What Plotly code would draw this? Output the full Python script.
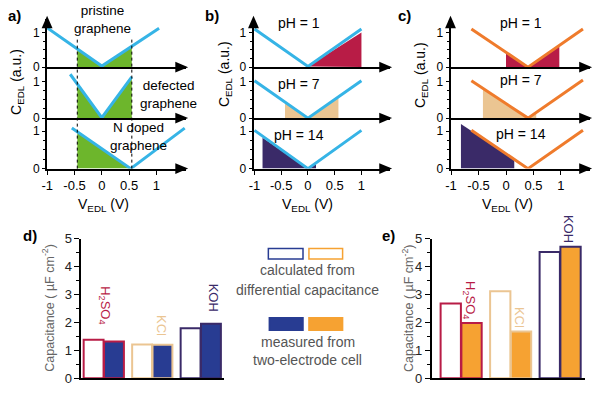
import plotly.graph_objects as go

W, H = 600, 395
def px(x): return x / W
def py(y): return 1 - y / H

FONT = "Arial, Liberation Sans, sans-serif"
CYAN = '#36b4e6'
ORANGE_LINE = '#ef7b2c'
GREEN = '#6db62c'
CRIMSON = '#b81c46'
TAN = '#ebc592'
PURPLE = '#3a2a68'
NAVY = '#283c92'
ORANGE_FILL = '#f6a232'

# ---------------- data: panel a (graphene types) ----------------
a_pristine_x = [-1, 0, 1.05]
a_pristine_y = [1.13, 0.03, 1.12]
a_pristine_fill_x = [-0.45, -0.45, 0, 0.55, 0.55]
a_pristine_fill_y = [0, 0.5, 0.03, 0.6, 0]

a_defected_x = [-0.58, 0, 0.55]
a_defected_y = [1.2, 0.01, 1.13]
a_defected_fill_x = [-0.45, -0.45, 0, 0.55, 0.55]
a_defected_fill_y = [0, 0.93, 0.01, 1.13, 0]

a_ndoped_x = [-0.55, 0.53, 1.52]
a_ndoped_y = [1.08, 0.0, 1.08]
a_ndoped_fill_x = [-0.45, -0.45, 0.53]
a_ndoped_fill_y = [0, 1.0, 0]

window_edges = [-0.45, 0.55]

# ---------------- data: panel b (cyan, pH) ----------------
b_ph1_x = [-1, 0, 1]
b_ph1_y = [1.1, 0.02, 1.1]
b_ph1_fill_x = [0, 1, 1]
b_ph1_fill_y = [0.02, 1.0, 0]

b_ph7_x = [-1, 0, 1]
b_ph7_y = [1.02, 0.0, 1.02]
b_ph7_fill_x = [-0.43, -0.43, 0, 0.57, 0.57]
b_ph7_fill_y = [0, 0.42, 0, 0.56, 0]

b_ph14_x = [-1, 0, 1]
b_ph14_y = [1.02, 0.0, 1.02]
b_ph14_fill_x = [-0.85, -0.85, 0, 0.15, 0.15]
b_ph14_fill_y = [0, 0.82, 0, 0.12, 0]

# ---------------- data: panel c (orange, pH) ----------------
c_ph1_x = [-0.63, 0.4, 1.4]
c_ph1_y = [1.1, 0.0, 1.1]
c_ph1_fill_x = [0, 0, 0.4, 0.97, 0.97]
c_ph1_fill_y = [0, 0.42, 0, 0.62, 0]

c_ph7_x = [-0.63, 0.4, 1.4]
c_ph7_y = [1.02, 0.0, 1.04]
c_ph7_fill_x = [-0.42, -0.42, 0.4, 0.55, 0.55]
c_ph7_fill_y = [0, 0.8, 0, 0.15, 0]

c_ph14_x = [-0.63, 0.4, 1.4]
c_ph14_y = [1.02, 0.0, 1.02]
c_ph14_fill_x = [-0.82, -0.82, 0.15, 0.15]
c_ph14_fill_y = [0, 1.19, 0.25, 0]

# ---------------- data: bar panels ----------------
electrolytes = ['H2SO4', 'KCl', 'KOH']
electrolyte_colors = [CRIMSON, TAN, PURPLE]
d_calculated = [1.38, 1.21, 1.8]
d_measured = [1.32, 1.2, 1.96]
e_calculated = [2.68, 3.12, 4.53]
e_measured = [1.98, 1.68, 4.72]

v_ticks = [-1, -0.5, 0, 0.5, 1]
v_tick_labels = ['-1', '-0.5', '0', '0.5', '1']
cap_ticks = [0, 1, 2, 3, 4, 5]

fig = go.Figure()

# ---------------- stacked panel geometry ----------------
panels_x = [  # (left px, right px, value at left, value at right)
    (41.5, 182, -1.004, 1.547),
    (250, 388, -1.019, 1.537),
    (449, 590, -1.01, 1.53),
]
rows_y = [  # (top px, baseline px, px per unit)
    (12, 62.5, 36),
    (62.5, 115.5, 38),
    (115.5, 168, 39),
]

layout = dict(
    width=W, height=H, margin=dict(l=0, r=0, t=0, b=0),
    paper_bgcolor='white', plot_bgcolor='rgba(0,0,0,0)',
    showlegend=False, font=dict(family=FONT, color='black', size=13),
)

for p, (xl, xr, v0, v1) in enumerate(panels_x):
    for r, (yt, yb, sc) in enumerate(rows_y):
        k = p * 3 + r + 1
        bottom = (r == 2)
        layout[f'xaxis{k}'] = dict(
            domain=[px(xl), px(xr)], range=[v0, v1], anchor=f'y{k}',
            showline=True, linecolor='black', linewidth=2,
            showgrid=False, zeroline=False,
            ticks='outside' if bottom else '', ticklen=4, tickwidth=1.2, tickcolor='black',
            tickmode='array', tickvals=v_ticks, ticktext=v_tick_labels,
            showticklabels=bottom, tickfont=dict(size=13, family=FONT),
        )
        layout[f'yaxis{k}'] = dict(
            domain=[py(yb), py(yt)], range=[0, (yb - yt) / sc], anchor=f'x{k}',
            showline=True, linecolor='black', linewidth=2,
            showgrid=False, zeroline=False,
            ticks='outside', ticklen=3, tickwidth=1.2, tickcolor='black',
            tickmode='array', tickvals=[0, 1], ticktext=['0', '1'],
            tickfont=dict(size=12, family=FONT),
            minor=dict(tickmode='array', tickvals=[0.25, 0.5, 0.75], ticks='outside',
                       ticklen=2, tickcolor='black'),
        )

stack = [
    # panel a
    (1, a_pristine_fill_x, a_pristine_fill_y, GREEN, a_pristine_x, a_pristine_y, CYAN),
    (2, a_defected_fill_x, a_defected_fill_y, GREEN, a_defected_x, a_defected_y, CYAN),
    (3, a_ndoped_fill_x, a_ndoped_fill_y, GREEN, a_ndoped_x, a_ndoped_y, CYAN),
    # panel b
    (4, b_ph1_fill_x, b_ph1_fill_y, CRIMSON, b_ph1_x, b_ph1_y, CYAN),
    (5, b_ph7_fill_x, b_ph7_fill_y, TAN, b_ph7_x, b_ph7_y, CYAN),
    (6, b_ph14_fill_x, b_ph14_fill_y, PURPLE, b_ph14_x, b_ph14_y, CYAN),
    # panel c
    (7, c_ph1_fill_x, c_ph1_fill_y, CRIMSON, c_ph1_x, c_ph1_y, ORANGE_LINE),
    (8, c_ph7_fill_x, c_ph7_fill_y, TAN, c_ph7_x, c_ph7_y, ORANGE_LINE),
    (9, c_ph14_fill_x, c_ph14_fill_y, PURPLE, c_ph14_x, c_ph14_y, ORANGE_LINE),
]
for k, fx, fy, fc, lx, ly, lc in stack:
    fig.add_trace(go.Scatter(x=fx, y=fy, fill='toself', fillcolor=fc, mode='lines',
                             line=dict(width=0, color=fc), hoverinfo='skip',
                             xaxis=f'x{k}', yaxis=f'y{k}'))
    fig.add_trace(go.Scatter(x=lx, y=ly, mode='lines', line=dict(width=3, color=lc),
                             xaxis=f'x{k}', yaxis=f'y{k}'))

# ---------------- bar panels ----------------
for k, calc, meas, fillc, xl, xr, x0, x1 in [
        (10, d_calculated, d_measured, NAVY, 76, 220, -0.47, 2.47),
        (11, e_calculated, e_measured, ORANGE_FILL, 430, 585, -0.6, 2.5)]:
    fig.add_trace(go.Bar(x=electrolytes, y=calc, width=0.41, offset=-0.42,
                         marker=dict(color='white', line=dict(color=electrolyte_colors, width=2)),
                         xaxis=f'x{k}', yaxis=f'y{k}'))
    fig.add_trace(go.Bar(x=electrolytes, y=meas, width=0.41, offset=0.0,
                         marker=dict(color=fillc, line=dict(color=electrolyte_colors, width=2)),
                         xaxis=f'x{k}', yaxis=f'y{k}'))
    layout[f'xaxis{k}'] = dict(domain=[px(xl), px(xr)], range=[x0, x1], anchor=f'y{k}',
                               type='category', showline=True, linecolor='black', linewidth=2,
                               showgrid=False, zeroline=False, showticklabels=False, ticks='')
    layout[f'yaxis{k}'] = dict(domain=[py(386), py(241)], range=[0, 5], anchor=f'x{k}',
                               showline=True, linecolor='black', linewidth=1.5,
                               showgrid=False, zeroline=False,
                               tickmode='array', tickvals=cap_ticks,
                               ticks='outside', ticklen=5, tickwidth=1.2, tickcolor='black',
                               tickfont=dict(size=13, color='#222', family=FONT),
                               minor=dict(dtick=0.5, ticks='outside', ticklen=3, tickcolor='black'))

layout['barmode'] = 'overlay'

# ---------------- shapes: arrows, dashed lines, legend boxes ----------------
shapes = []
def tri_right(xt, yb):
    return dict(type='path', xref='paper', yref='paper', fillcolor='black', line=dict(width=0),
                path=f'M {px(xt-13)},{py(yb-5.5)} L {px(xt)},{py(yb)} L {px(xt-13)},{py(yb+5.5)} Z')
def tri_up(xa, yt):
    return dict(type='path', xref='paper', yref='paper', fillcolor='black', line=dict(width=0),
                path=f'M {px(xa-5.5)},{py(yt+13)} L {px(xa)},{py(yt)} L {px(xa+5.5)},{py(yt+13)} Z')

for (xl, xr, v0, v1) in panels_x:
    shapes.append(tri_up(xl, 9))
    for (yt, yb, sc) in rows_y:
        shapes.append(tri_right(xr + 2, yb))

for xv in window_edges:
    shapes.append(dict(type='line', xref='x3', yref='paper', x0=xv, x1=xv,
                       y0=py(168), y1=py(32), line=dict(color='black', width=1, dash='dot')))

for (x0, y0, x1, y1, lc, fc) in [
        (265, 251, 300, 262, NAVY, 'white'),
        (306, 251, 340, 262, ORANGE_FILL, 'white'),
        (266, 323, 300, 336, NAVY, NAVY),
        (306, 323, 340, 336, ORANGE_FILL, ORANGE_FILL)]:
    shapes.append(dict(type='rect', xref='paper', yref='paper', x0=px(x0), x1=px(x1),
                       y0=py(y1), y1=py(y0), line=dict(color=lc, width=1.5), fillcolor=fc))
layout['shapes'] = shapes

# ---------------- annotations ----------------
anns = []
def ann(text, x, y, size=14, color='black', angle=0, bold=False, xanchor='center'):
    if bold:
        text = f'<b>{text}</b>'
    anns.append(dict(text=text, x=px(x), y=py(y), xref='paper', yref='paper', showarrow=False,
                     xanchor=xanchor, yanchor='middle', textangle=angle, borderpad=0,
                     font=dict(size=size, color=color, family=FONT)))

ann('a)', 9, 9, 15, bold=True)
ann('b)', 208, 9, 15, bold=True)
ann('c)', 403, 9, 15, bold=True)
ann('d)', 24, 237, 15, bold=True)
ann('e)', 386, 237, 15, bold=True)

ann('pristine<br>graphene', 97, 13.5, 13.5)
ann('defected<br>graphene', 164, 90.5, 13.5)
ann('N doped<br>graphene', 134, 134.5, 13.5)

ann('pH = 1', 296, 17)
ann('pH = 7', 296, 80)
ann('pH = 14', 296, 133)
ann('pH = 1', 520, 17)
ann('pH = 7', 520, 76)
ann('pH = 14', 520, 132)

for xt, yc in ((11, 78), (222, 70), (420, 71)):
    ann('C<sub>EDL</sub> (a.u.)', xt, yc, 14, angle=-90)
for xc in (98, 305, 507):
    ann('V<sub>EDL</sub> (V)', xc, 206, 14)

ann('Capacitance ( µF cm<sup>-2</sup>)', 43, 313, 12.5, '#666', angle=-90)
ann('Capacitance ( µF cm<sup>-2</sup>)', 406, 313, 12.5, '#666', angle=-90)

ann('H<sub>2</sub>SO<sub>4</sub>', 100, 310, 13, CRIMSON, angle=90)
ann('KCl', 157, 331, 13, TAN, angle=90)
ann('KOH', 210, 302, 13, PURPLE, angle=90)
ann('H<sub>2</sub>SO<sub>4</sub>', 468, 305, 13, CRIMSON, angle=90)
ann('KCl', 518, 323, 13, TAN, angle=90)
ann('KOH', 568, 231, 13, PURPLE, angle=90)

ann('calculated from', 305, 273, 14, '#555')
ann('differential capacitance', 305, 294, 14, '#555')
ann('measured from', 305, 348, 14, '#555')
ann('two-electrode cell', 305, 367, 14, '#555')

layout['annotations'] = anns
fig.update_layout(**layout)
fig.write_html('out.html', config={'displayModeBar': False},
               post_script="document.body.style.margin='0px';")
